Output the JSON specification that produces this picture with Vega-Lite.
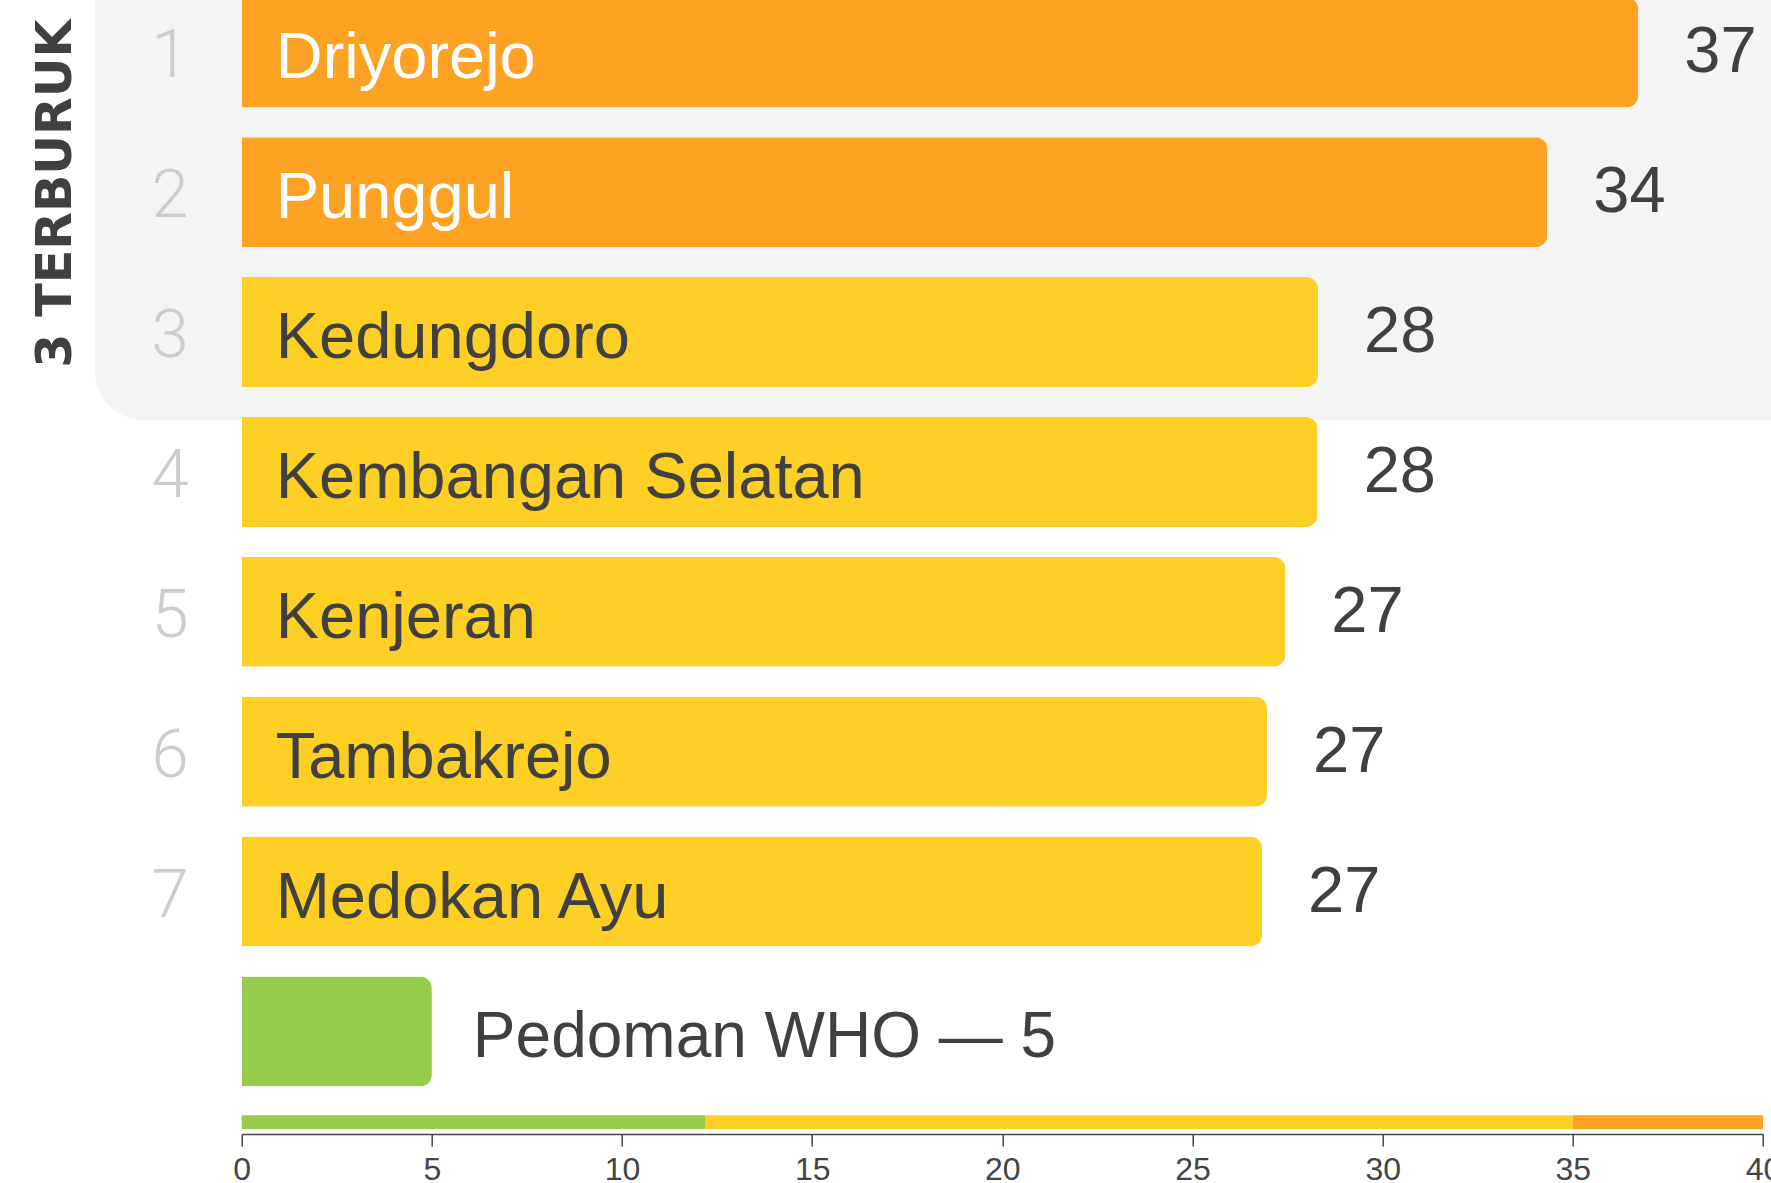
{
  "$schema": "https://vega.github.io/schema/vega-lite/v6.json",
  "width": 1521.3,
  "height": 1134,
  "autosize": "none",
  "padding": {"left": 241.7, "top": 0, "right": 8, "bottom": 49},
  "background": "white",
  "config": {
    "view": {"stroke": null},
    "font": "Liberation Sans",
    "axis": {
      "domainColor": "#444444", "domainWidth": 1.5,
      "tickColor": "#444444", "tickWidth": 1.5, "tickSize": 12,
      "labelFontSize": 32, "labelColor": "#444444", "labelPadding": 8,
      "labelFont": "Liberation Sans", "grid": false, "labelFlush": false, "labelOverlap": false
    }
  },
  "datasets": {
    "kecamatan": [
      {"rank": 1, "nama": "Driyorejo", "nilai": 36.72, "kelompok": "top"},
      {"rank": 2, "nama": "Punggul", "nilai": 34.33, "kelompok": "top"},
      {"rank": 3, "nama": "Kedungdoro", "nilai": 28.3, "kelompok": "lain"},
      {"rank": 4, "nama": "Kembangan Selatan", "nilai": 28.29, "kelompok": "lain"},
      {"rank": 5, "nama": "Kenjeran", "nilai": 27.44, "kelompok": "lain"},
      {"rank": 6, "nama": "Tambakrejo", "nilai": 26.96, "kelompok": "lain"},
      {"rank": 7, "nama": "Medokan Ayu", "nilai": 26.83, "kelompok": "lain"},
      {"rank": 8, "nama": "Pedoman WHO — 5", "nilai": 5, "kelompok": "who"}
    ],
    "skala": [
      {"kategori": "Baik", "dari": 0, "sampai": 12.2},
      {"kategori": "Sedang", "dari": 12.2, "sampai": 35},
      {"kategori": "Tidak sehat", "dari": 35, "sampai": 40}
    ],
    "panel": [
      {"label": "3 TERBURUK"}
    ]
  },
  "resolve": {"scale": {"color": "independent"}},
  "layer": [
    {
      "data": {"name": "panel"},
      "mark": {"type": "rect", "color": "#f4f4f4", "cornerRadiusBottomLeft": 48},
      "encoding": {
        "x": {"datum": -3.857, "type": "quantitative", "scale": {"domain": [0, 40], "nice": false}, "title": null},
        "x2": {"datum": 42},
        "y": {"datum": 0.3, "type": "quantitative", "scale": {"domain": [0.661, 8.698], "reverse": true, "zero": false, "nice": false}, "axis": null},
        "y2": {"datum": 3.626}
      }
    },
    {
      "data": {"name": "skala"},
      "mark": {"type": "rect"},
      "encoding": {
        "x": {"field": "dari", "type": "quantitative", "title": null},
        "x2": {"field": "sampai"},
        "y": {"datum": 8.6, "type": "quantitative", "axis": null},
        "y2": {"datum": 8.698},
        "color": {"field": "kategori", "type": "nominal", "legend": null,
          "scale": {"domain": ["Baik", "Sedang", "Tidak sehat"], "range": ["#95cc4c", "#fecf24", "#fea223"]}}
      }
    },
    {
      "data": {"name": "kecamatan"},
      "mark": {"type": "bar", "orient": "horizontal", "height": 110, "cornerRadiusEnd": 12},
      "encoding": {
        "x": {"field": "nilai", "type": "quantitative", "title": null,
          "axis": {"values": [0, 5, 10, 15, 20, 25, 30, 35, 40], "title": null}},
        "y": {"field": "rank", "type": "quantitative", "axis": null},
        "color": {"field": "kelompok", "type": "nominal", "legend": null,
          "scale": {"domain": ["top", "lain", "who"], "range": ["#fea223", "#fecf24", "#95cc4c"]}}
      }
    },
    {
      "data": {"name": "kecamatan"},
      "transform": [{"filter": "datum.kelompok !== 'who'"}],
      "mark": {"type": "text", "align": "left", "baseline": "middle", "dx": 34, "dy": 6, "fontSize": 65, "font": "Liberation Sans"},
      "encoding": {
        "x": {"datum": 0, "type": "quantitative", "title": null},
        "y": {"field": "rank", "type": "quantitative", "axis": null},
        "text": {"field": "nama"},
        "color": {"condition": {"test": "datum.kelompok === 'top'", "value": "#ffffff"}, "value": "#404040"}
      }
    },
    {
      "data": {"name": "kecamatan"},
      "transform": [{"filter": "datum.kelompok !== 'who'"}],
      "mark": {"type": "text", "align": "left", "baseline": "middle", "dx": 46, "dy": 0, "fontSize": 65, "font": "Liberation Sans", "color": "#404040"},
      "encoding": {
        "x": {"field": "nilai", "type": "quantitative", "title": null},
        "y": {"field": "rank", "type": "quantitative", "axis": null},
        "text": {"field": "nilai", "format": ".0f"}
      }
    },
    {
      "data": {"name": "kecamatan"},
      "transform": [{"filter": "datum.kelompok === 'who'"}],
      "mark": {"type": "text", "align": "left", "baseline": "middle", "dx": 41, "dy": 7, "fontSize": 64, "font": "Liberation Sans", "color": "#404040"},
      "encoding": {
        "x": {"field": "nilai", "type": "quantitative", "title": null},
        "y": {"field": "rank", "type": "quantitative", "axis": null},
        "text": {"field": "nama"}
      }
    },
    {
      "data": {"name": "kecamatan"},
      "transform": [{"filter": "datum.kelompok !== 'who'"}],
      "mark": {"type": "text", "align": "right", "baseline": "middle", "dx": -53, "dy": 5, "fontSize": 67, "font": "Roboto", "fontWeight": 300, "color": "#cccccc"},
      "encoding": {
        "x": {"datum": 0, "type": "quantitative", "title": null},
        "y": {"field": "rank", "type": "quantitative", "axis": null},
        "text": {"field": "rank"}
      }
    },
    {
      "data": {"name": "panel"},
      "mark": {"type": "text", "align": "center", "baseline": "middle", "angle": 270, "fontSize": 49, "fontWeight": "bold", "font": "DejaVu Sans", "color": "#404040"},
      "encoding": {
        "x": {"datum": -4.895, "type": "quantitative", "title": null},
        "y": {"datum": 2.01, "type": "quantitative", "axis": null},
        "text": {"field": "label"}
      }
    }
  ]
}
